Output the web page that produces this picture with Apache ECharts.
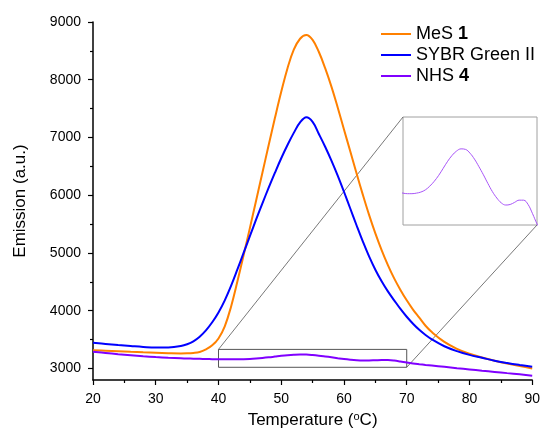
<!DOCTYPE html>
<html><head><meta charset="utf-8">
<script src="https://cdn.jsdelivr.net/npm/echarts@6/dist/echarts.min.js"></script>
<style>html,body{margin:0;padding:0;background:#fff}#c{width:543px;height:437px}</style>
</head><body><div id="c"></div>
<script>
const temperature = [20,22,24,26,28,30,32,34,35,36,37,38,39,40,41,42,43,44,45,46,47,48,49,50,51,52,53,54,55,56,57,58,59,60,61,62,63,64,65,66,67,68,69,70,71,72,73,74,76,78,80,82,84,86,88,90];
const mes1 = [3317,3308,3298,3288,3279,3272,3265,3261,3262,3268,3285,3330,3400,3520,3730,4070,4500,4960,5430,5910,6390,6870,7340,7790,8200,8520,8710,8775,8690,8480,8200,7880,7520,7140,6760,6380,6010,5660,5340,5050,4790,4560,4360,4180,4020,3880,3740,3630,3460,3340,3255,3190,3135,3085,3040,3000];
const sybr = [3445,3425,3405,3388,3372,3362,3365,3390,3420,3470,3550,3660,3800,3970,4180,4430,4710,5000,5290,5580,5860,6130,6390,6640,6870,7080,7260,7350,7270,7060,6840,6600,6340,6060,5770,5480,5200,4940,4710,4510,4335,4180,4030,3895,3775,3670,3580,3505,3385,3300,3235,3185,3135,3095,3060,3028];
const nhs4 = [3288,3268,3248,3230,3212,3197,3185,3176,3172,3169,3166,3163,3161,3159,3158,3158,3159,3161,3165,3172,3181,3192,3205,3218,3229,3237,3241,3240,3233,3222,3208,3193,3177,3162,3150,3141,3137,3138,3142,3146,3146,3138,3121,3102,3086,3073,3061,3050,3028,3005,2983,2961,2940,2919,2898,2875];
const seriesNames = ['MeS 1','SYBR Green II','NHS 4'];
const yTicks = [3000,4000,5000,6000,7000,8000,9000];
const yMinorTicks = [3500,4500,5500,6500,7500,8500];
const zoomBox = {x:[40,70], y:[3020,3330]};
const insetY = [3100,3300];

const FONT = "'Liberation Sans', Arial, sans-serif";
const colors = ['#FF8000','#0000FF','#8000FF'];
const pairs = arr => temperature.map((t,i)=>[t,arr[i]]);
const chart = echarts.init(document.getElementById('c'));

const axisCommon = {
  axisLine:{show:true,lineStyle:{color:'#000',width:1.5}},
  splitLine:{show:false},
};
chart.setOption({
  animation:false,
  textStyle:{fontFamily:FONT},
  grid:[
    {left:93,top:22,width:443,height:358},
    {left:403,top:117,width:134,height:108,show:true,borderColor:'#a0a0a0',borderWidth:1,backgroundColor:'transparent'}
  ],
  legend:{
    orient:'vertical', left:376, top:20, itemWidth:30, itemHeight:2, itemGap:3, icon:'rect',
    data:seriesNames,
    formatter: n => { const m = n.match(/^(.*) (\d+)$/); return m ? '{n|'+m[1]+' }{b|'+m[2]+'}' : '{n|'+n+'}'; },
    textStyle:{color:'#000',fontSize:18,fontFamily:FONT,
      rich:{n:{fontSize:18,lineHeight:21,fontFamily:FONT,color:'#000'},b:{fontSize:18,lineHeight:21,fontWeight:'bold',fontFamily:FONT,color:'#000'}}}
  },
  xAxis:[
    Object.assign({type:'value',gridIndex:0,min:20,max:90,interval:10,
      name:'Temperature ({s|o}C)',nameLocation:'middle',nameGap:31,
      nameTextStyle:{fontSize:17,color:'#000',fontFamily:FONT,rich:{s:{fontSize:11,verticalAlign:'top',padding:[0,0,8,0],fontFamily:FONT,color:'#000'}}},
      axisTick:{show:true,inside:false,length:5,lineStyle:{color:'#000',width:1.2}},
      minorTick:{show:true,splitNumber:2,length:3,lineStyle:{color:'#000',width:1.2}},
      axisLabel:{color:'#000',fontSize:14,margin:12,fontFamily:FONT,formatter:v=>String(v)}},axisCommon),
    {type:'value',gridIndex:1,min:zoomBox.x[0],max:zoomBox.x[1],show:false}
  ],
  yAxis:[
    Object.assign({type:'value',gridIndex:0,min:2800,max:9000,
      name:'Emission (a.u.)',nameLocation:'middle',nameGap:64,
      nameTextStyle:{fontSize:17,color:'#000',fontFamily:FONT},
      axisTick:{show:true,length:5,customValues:yTicks,lineStyle:{color:'#000',width:1.2}},
      axisLabel:{color:'#000',fontSize:14,margin:12,customValues:yTicks,fontFamily:FONT,formatter:v=>String(v)}},axisCommon),
    {type:'value',gridIndex:0,min:2800,max:9000,position:'left',
      axisLine:{show:false},splitLine:{show:false},axisLabel:{show:false},
      axisTick:{show:true,length:3,customValues:yMinorTicks,lineStyle:{color:'#000',width:1.2}}},
    {type:'value',gridIndex:1,min:insetY[0],max:insetY[1],show:false}
  ],
  series:[
    {name:seriesNames[0],type:'line',data:pairs(mes1),smooth:0.4,showSymbol:false,lineStyle:{color:colors[0],width:2},itemStyle:{color:colors[0]},xAxisIndex:0,yAxisIndex:0},
    {name:seriesNames[1],type:'line',data:pairs(sybr),smooth:0.4,showSymbol:false,lineStyle:{color:colors[1],width:2},itemStyle:{color:colors[1]},xAxisIndex:0,yAxisIndex:0},
    {name:seriesNames[2],type:'line',data:pairs(nhs4),smooth:0.4,showSymbol:false,lineStyle:{color:colors[2],width:2},itemStyle:{color:colors[2]},xAxisIndex:0,yAxisIndex:0,
      markArea:{silent:true,itemStyle:{color:'rgba(0,0,0,0)',borderColor:'#555',borderWidth:1},
        data:[[{coord:[zoomBox.x[0],zoomBox.y[1]]},{coord:[zoomBox.x[1],zoomBox.y[0]]}]]}},
    {name:'inset',type:'line',data:pairs(nhs4),smooth:0.4,showSymbol:false,clip:true,lineStyle:{color:'#A855F7',width:1},xAxisIndex:1,yAxisIndex:2,z:3}
  ]
});
const p1 = chart.convertToPixel({xAxisIndex:0,yAxisIndex:0},[zoomBox.x[0],zoomBox.y[1]]);
const p2 = chart.convertToPixel({xAxisIndex:1,yAxisIndex:2},[zoomBox.x[0],insetY[1]]);
const p3 = chart.convertToPixel({xAxisIndex:0,yAxisIndex:0},[zoomBox.x[1],zoomBox.y[0]]);
const p4 = chart.convertToPixel({xAxisIndex:1,yAxisIndex:2},[zoomBox.x[1],insetY[0]]);
chart.setOption({graphic:[
  {type:'line',shape:{x1:p1[0],y1:p1[1],x2:p2[0],y2:p2[1]},style:{stroke:'#555',lineWidth:0.8},z:1},
  {type:'line',shape:{x1:p3[0],y1:p3[1],x2:p4[0],y2:p4[1]},style:{stroke:'#555',lineWidth:0.8},z:1}
]});
</script></body></html>
